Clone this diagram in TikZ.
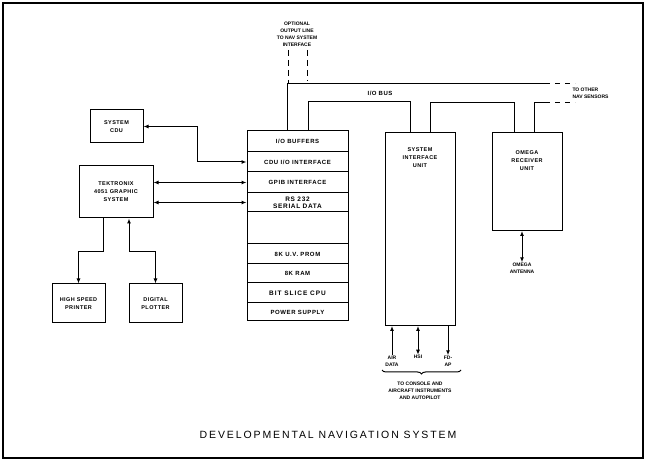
\documentclass[tikz,border=0pt]{standalone}
\usepackage{fontspec}
\setmainfont{Liberation Sans}
\usetikzlibrary{arrows.meta,decorations.pathreplacing}
\begin{document}
\begin{tikzpicture}[x=1pt,y=-1pt,
  line width=1pt,
  >={Latex[length=5pt,width=4pt]},
  lbl/.style={inner sep=0pt, align=center, font=\fontsize{5}{7}\selectfont\bfseries},
  blk/.style={draw, inner sep=0pt, align=center, font=\fontsize{5.5}{8}\selectfont\bfseries\addfontfeature{LetterSpace=8}},
  stackrow/.style={draw, minimum width=101pt, minimum height=#1, inner sep=0pt, align=center, font=\fontsize{6}{7}\selectfont\bfseries\addfontfeature{LetterSpace=10}},
  busline/.style={line width=1pt},
  dashline/.style={line width=1pt, dash pattern=on 5pt off 5pt}
]
\useasboundingbox (0,0) rectangle (646,462);
\draw[line width=1.6pt] (3,3) rectangle (643,458);

% left blocks
\node[blk, minimum width=53pt, minimum height=33pt] (cdu) at (116.5,126.5) {SYSTEM\\CDU};
\node[blk, minimum width=74pt, minimum height=52pt] (tek) at (116,192) {TEKTRONIX\\4051 GRAPHIC\\SYSTEM};
\node[blk, minimum width=53pt, minimum height=39pt] (prt) at (78.5,303.5) {HIGH SPEED\\PRINTER};
\node[blk, minimum width=53pt, minimum height=39pt] (plt) at (155.5,303.5) {DIGITAL\\PLOTTER};

% main stack
\node[stackrow=21pt] (buf) at (297.5,141.5) {I/O BUFFERS};
\node[stackrow=20pt] (cduif) at (297.5,162) {CDU I/O INTERFACE};
\node[stackrow=21pt] (gpib) at (297.5,182.5) {GPIB INTERFACE};
\node[stackrow=19pt, font=\fontsize{6.5}{7}\selectfont\bfseries\addfontfeature{LetterSpace=10}] (rs) at (297.5,202.5) {RS 232\\SERIAL DATA};
\node[stackrow=32pt] (empty) at (297.5,228) {};
\node[stackrow=20pt] (prom) at (297.5,254) {8K U.V. PROM};
\node[stackrow=19pt] (ram) at (297.5,273.5) {8K RAM};
\node[stackrow=20pt, font=\fontsize{6.5}{7}\selectfont\bfseries\addfontfeature{LetterSpace=15}] (cpu) at (297.5,293) {BIT SLICE CPU};
\node[stackrow=18pt] (ps) at (297.5,312) {POWER SUPPLY};

% right blocks
\node[blk, minimum width=70pt, minimum height=193pt, anchor=north] (siu) at (420,132) {};
\node[lbl, font=\fontsize{5.5}{8}\selectfont\bfseries\addfontfeature{LetterSpace=8}] (siut) at (420,158) {SYSTEM\\INTERFACE\\UNIT};
\node[blk, minimum width=70pt, minimum height=98pt, anchor=north] (omega) at (527,132) {};
\node[lbl, font=\fontsize{5.5}{8}\selectfont\bfseries\addfontfeature{LetterSpace=8}] (omegat) at (527,161) {OMEGA\\RECEIVER\\UNIT};

% left connectors
\draw[<->] (cdu.east) -- ++(54,0) |- (cduif.west);
\draw[<->] (gpib.west) -- (gpib.west -| tek.east);
\draw[<->] (rs.west) -- (rs.west -| tek.east);
\draw[->] ([xshift=-13pt]tek.south) -- ++(0,33) -| (prt.north);
\draw[<->] ([xshift=13pt]tek.south) -- ++(0,33) -| (plt.north);

% bus
\coordinate (busend) at (545,84);
\coordinate (busdash) at (575,84);
\coordinate (bus2end) at (545,103);
\coordinate (bus2dash) at (575,103);
\draw[busline] ([xshift=-10.5pt]buf.north) |- (busend);
\draw[dashline] (busend) -- (busdash);
\draw[busline] ([xshift=10.5pt]buf.north) -- ++(0,-29) -| ([xshift=-10pt]siu.north);
\draw[busline] ([xshift=10pt]siu.north) -- ++(0,-29) -| ([xshift=-13pt]omega.north);
\draw[busline] ([xshift=7pt]omega.north) |- (bus2end);
\draw[dashline] (bus2end) -- (bus2dash);
\node[lbl, font=\fontsize{6}{7}\selectfont\bfseries\addfontfeature{LetterSpace=8}] (iobus) at (380,93) {I/O BUS};
\node[lbl, anchor=west, align=left] (other) at (572,93) {TO OTHER\\NAV SENSORS};

% optional interface
\node[lbl] (opt) at (297,34) {OPTIONAL\\OUTPUT LINE\\TO NAV SYSTEM\\INTERFACE};
\coordinate (o1) at (288,50);
\coordinate (o2) at (307,50);
\draw[dashline, dash pattern=on 6pt off 4pt] (o1) -- (o1 |- busend);
\draw[dashline, dash pattern=on 6pt off 4pt] (o2) -- ([yshift=3pt]o2 |- busend);

% SIU bottom
\node[lbl] (air) at (392,361) {AIR\\DATA};
\node[lbl] (hsi) at (418,357) {HSI};
\node[lbl] (fdap) at (448,361) {FD-\\AP};
\draw[->] (air.north) -- (air.north |- siu.south);
\draw[<->] (hsi.north) -- (hsi.north |- siu.south);
\draw[<-] (fdap.north) -- (fdap.north |- siu.south);
\coordinate (brl) at (382,370);
\coordinate (brr) at (461,370);
\draw[decorate, decoration={brace, mirror, amplitude=4pt}] (brl) -- (brr);
\node[lbl] (console) at (420,391) {TO CONSOLE AND\\AIRCRAFT INSTRUMENTS\\AND AUTOPILOT};

% omega antenna
\node[lbl] (ant) at (522,268) {OMEGA\\ANTENNA};
\draw[<->] (ant.north) -- (ant.north |- omega.south);

% title
\node[inner sep=0pt, font=\fontsize{10.5}{12}\selectfont\addfontfeature{LetterSpace=18}] (title) at (328,435) {DEVELOPMENTAL NAVIGATION SYSTEM};
\end{tikzpicture}
\end{document}
